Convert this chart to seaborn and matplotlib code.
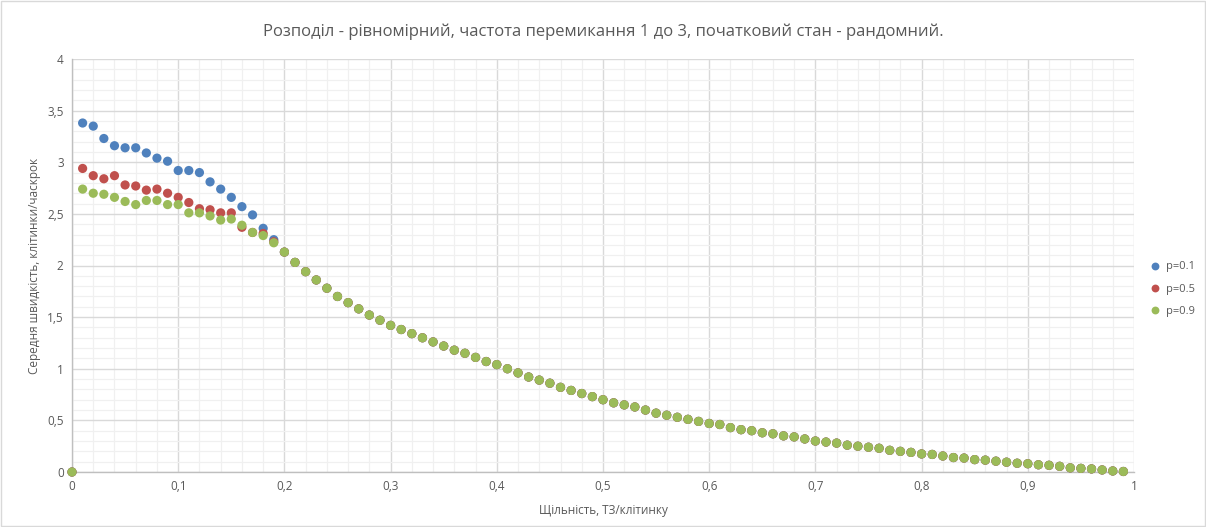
import numpy as np
import pandas as pd
import matplotlib
matplotlib.use("Agg")
import matplotlib.pyplot as plt
from matplotlib.ticker import MultipleLocator, FuncFormatter
import seaborn as sns

# ---- data ----
density = np.round(np.arange(0, 100) * 0.01, 2)

head_p01 = [0.0, 3.38, 3.35, 3.23, 3.16, 3.14, 3.14, 3.09, 3.04, 3.01, 2.92,
            2.92, 2.90, 2.81, 2.74, 2.66, 2.57, 2.49, 2.36, 2.25]
head_p05 = [0.0, 2.94, 2.87, 2.84, 2.87, 2.78, 2.77, 2.73, 2.74, 2.70, 2.66,
            2.61, 2.55, 2.54, 2.51, 2.51, 2.37, 2.32, 2.31, 2.23]
head_p09 = [0.0, 2.74, 2.70, 2.69, 2.66, 2.62, 2.59, 2.63, 2.63, 2.59, 2.59,
            2.51, 2.51, 2.48, 2.44, 2.45, 2.39, 2.32, 2.29, 2.22]
tail_common = [2.13, 2.03, 1.94, 1.86, 1.78, 1.70, 1.64, 1.58, 1.52, 1.47,
               1.42, 1.38, 1.34, 1.30, 1.26, 1.22, 1.18, 1.15, 1.11, 1.07,
               1.04, 1.00, 0.96, 0.92, 0.89, 0.86, 0.82, 0.79, 0.76, 0.73,
               0.70, 0.67, 0.65, 0.63, 0.60, 0.57, 0.55, 0.53, 0.51, 0.49,
               0.47, 0.46, 0.43, 0.41, 0.40, 0.38, 0.37, 0.35, 0.34, 0.32,
               0.30, 0.29, 0.28, 0.26, 0.25, 0.24, 0.23, 0.21, 0.20, 0.19,
               0.175, 0.17, 0.155, 0.14, 0.135, 0.12, 0.115, 0.105, 0.095, 0.085,
               0.08, 0.07, 0.065, 0.055, 0.04, 0.035, 0.03, 0.02, 0.01, 0.005]

series_names = ["p=0.1", "p=0.5", "p=0.9"]
series_values = [head_p01 + tail_common, head_p05 + tail_common, head_p09 + tail_common]
colors = ["#4F81BD", "#C0504D", "#9BBB59"]

title = "Розподіл - рівномірний, частота перемикання 1 до 3, початковий стан - рандомний."
xlabel = "Щільність, ТЗ/клітинку"
ylabel = "Середня швидкість, клітинки/часкрок"

frames = [pd.DataFrame({"x": density, "y": vals, "series": name})
          for name, vals in zip(series_names, series_values)]
df = pd.concat(frames, ignore_index=True)

# ---- plot ----
sns.set_theme(style="white")
plt.rcParams["font.family"] = ["Open Sans", "DejaVu Sans"]

fig = plt.figure(figsize=(12.06, 5.27), dpi=100)
ax = fig.add_axes([72 / 1206, 1 - 472 / 527, (1134 - 72) / 1206, (472 - 59) / 527])

sns.scatterplot(data=df, x="x", y="y", hue="series", palette=colors,
                hue_order=series_names, s=44, edgecolor="none", ax=ax,
                zorder=3, clip_on=False)

ax.set_xlim(0, 1)
ax.set_ylim(0, 4)
ax.xaxis.set_major_locator(MultipleLocator(0.1))
ax.xaxis.set_minor_locator(MultipleLocator(0.02))
ax.yaxis.set_major_locator(MultipleLocator(0.5))
ax.yaxis.set_minor_locator(MultipleLocator(0.1))

def fmt(v, pos):
    s = f"{v:.1f}".rstrip("0").rstrip(".")
    return s.replace(".", ",")

ax.xaxis.set_major_formatter(FuncFormatter(fmt))
ax.yaxis.set_major_formatter(FuncFormatter(fmt))

ax.grid(which="major", color="#D9D9D9", linewidth=1.0, zorder=0)
ax.grid(which="minor", color="#F0F0F0", linewidth=0.9, zorder=0)
ax.set_axisbelow(True)
for side in ["top", "right"]:
    ax.spines[side].set_visible(False)
for side in ["left", "bottom"]:
    ax.spines[side].set_color("#BFBFBF")
    ax.spines[side].set_linewidth(1.0)
ax.tick_params(which="both", length=0, labelsize=8.5, labelcolor="#595959", pad=6)

ax.set_xlabel(xlabel, fontsize=8.5, color="#595959", labelpad=8)
ax.set_ylabel(ylabel, fontsize=8.5, color="#595959", labelpad=4)
fig.text(0.5, 1 - 32 / 527, title, ha="center", va="center", fontsize=12, color="#595959")

leg = ax.legend(loc="center left", bbox_to_anchor=(1.004, 0.443), frameon=False,
                fontsize=8, handletextpad=0.0, labelspacing=1.0, markerscale=0.85,
                borderpad=0)
for t in leg.get_texts():
    t.set_color("#595959")

fig.patches.append(plt.Rectangle((0.0008, 0.001), 0.9984, 0.997, transform=fig.transFigure,
                                 fill=False, edgecolor="#D9D9D9", linewidth=1.0))

fig.savefig("out.png", dpi=100)
